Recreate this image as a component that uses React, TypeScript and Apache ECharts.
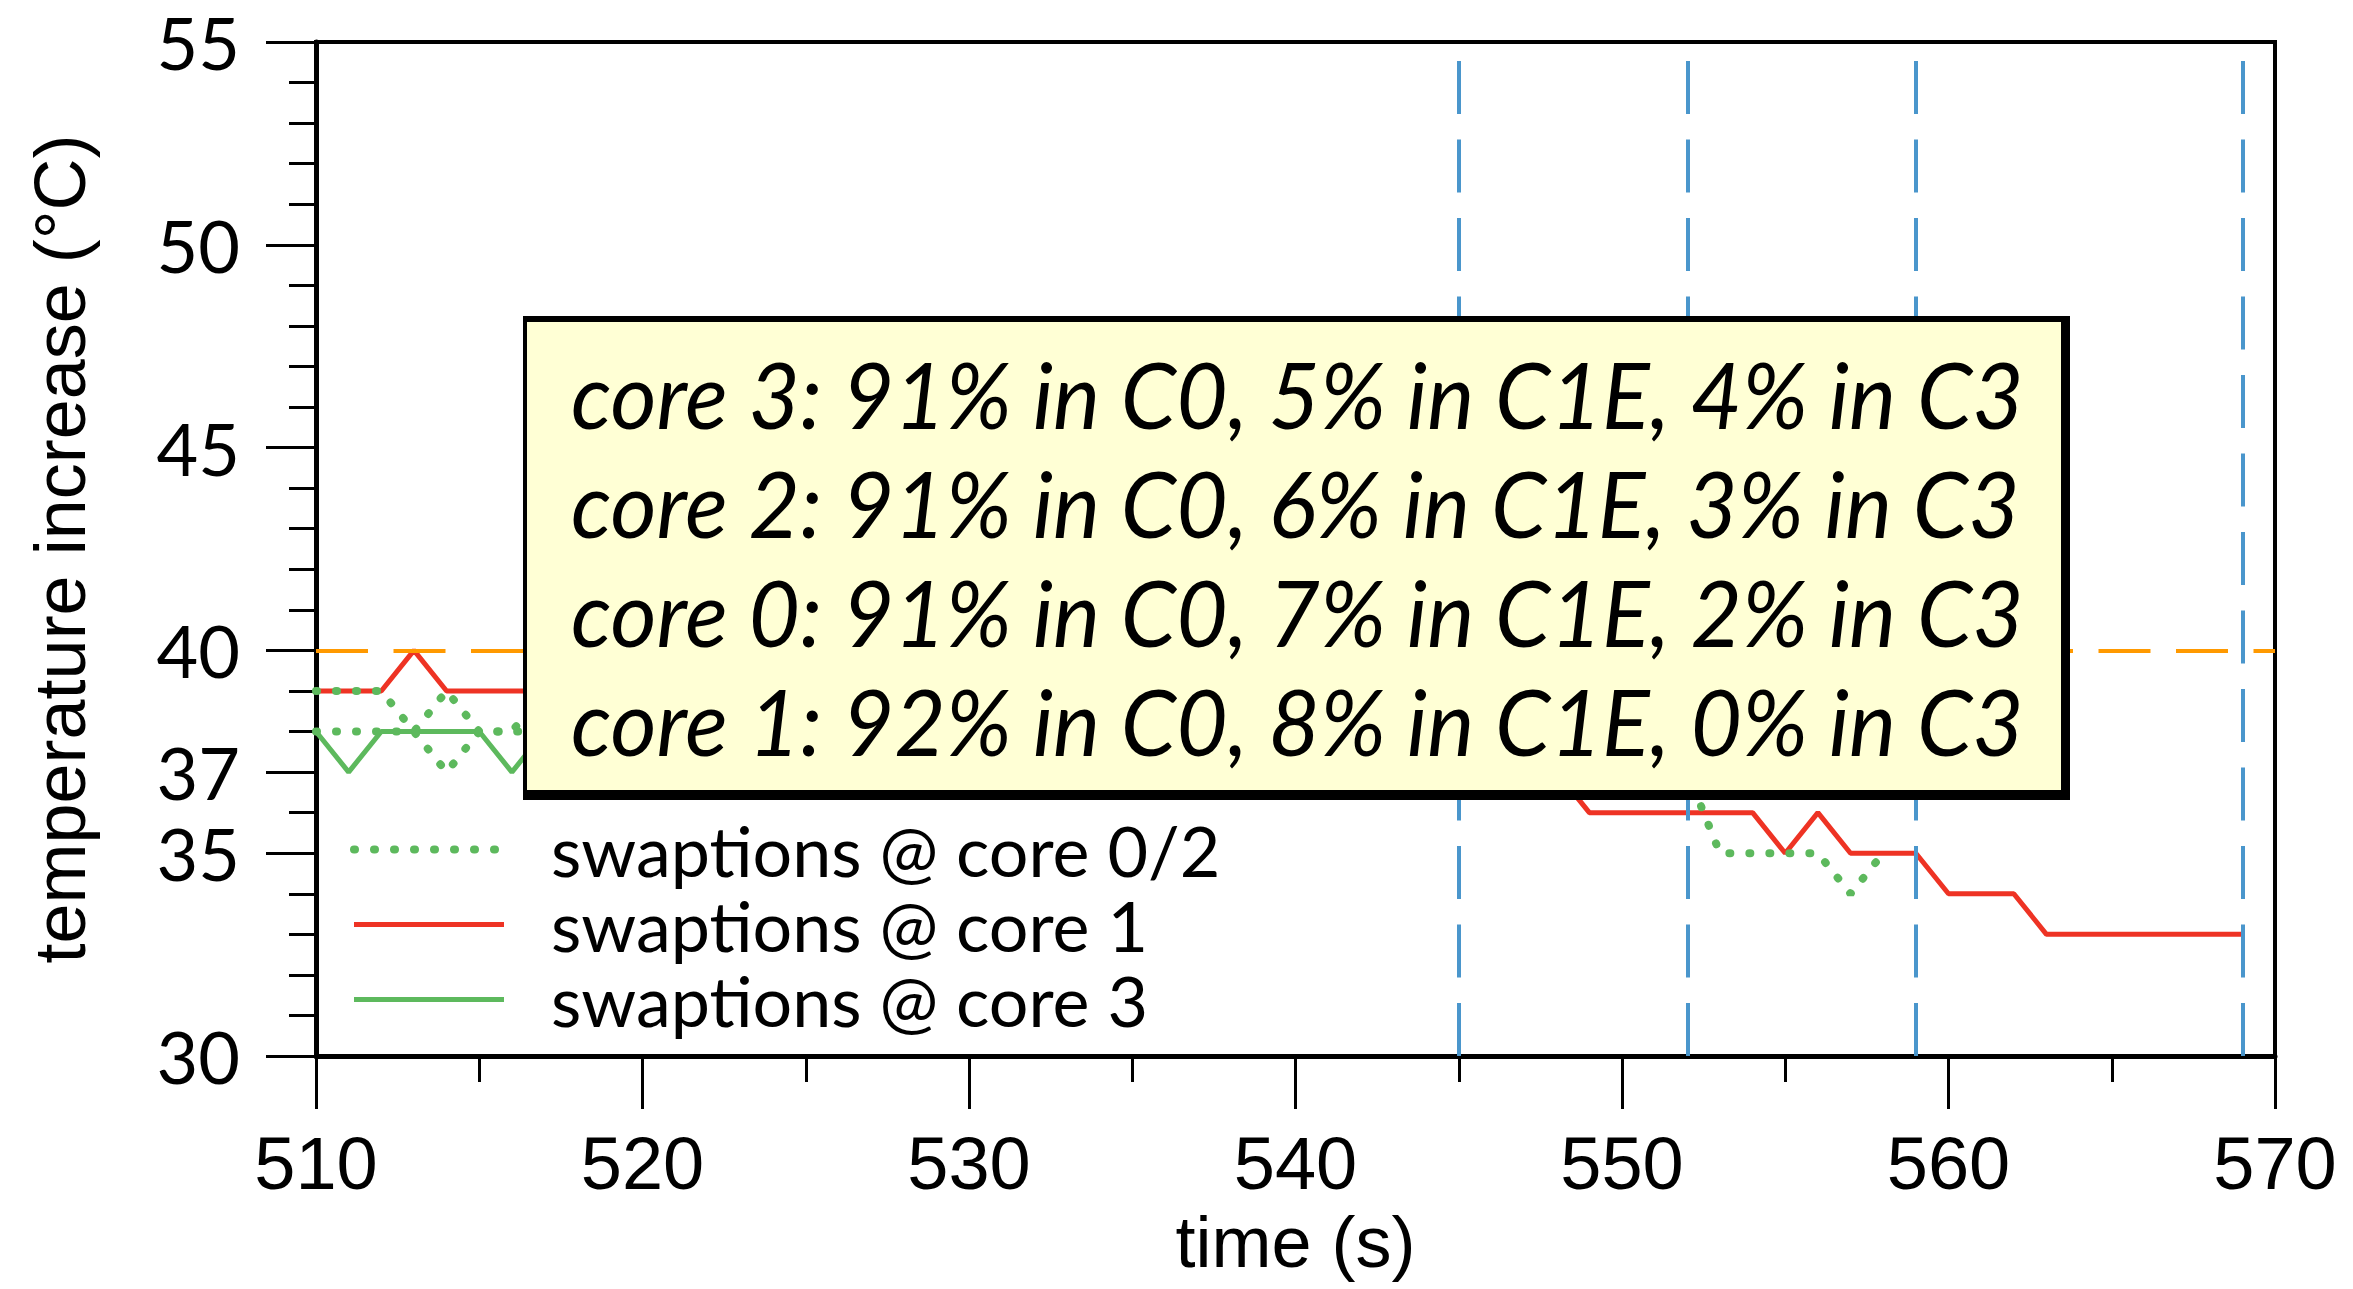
import React, { useEffect, useRef } from 'react';
import * as echarts from 'echarts';

const time = [
  510, 511, 512, 513, 514, 515, 516, 517, 518, 519,
  520, 521, 522, 523, 524, 525, 526, 527, 528, 529,
  530, 531, 532, 533, 534, 535, 536, 537, 538, 539,
  540, 541, 542, 543, 544, 545, 546, 547, 548, 549,
  550, 551, 552, 553, 554, 555, 556, 557, 558, 559,
  560, 561, 562, 563, 564, 565, 566, 567, 568, 569,
];

// swaptions @ core 1 (510..569)
const core1 = [
  39, 39, 39, 40, 39,
  39, 39, 39, 39, 39, 39, 40, 39, 39, 39,
  39, 39, 38, 39, 39, 38, 38, 38, 38, 38,
  38, 38, 38, 38, 38, 38, 38, 37, 38, 37,
  37, 37, 37, 37,
  36, 36, 36, 36, 36, 36, 35, 36, 35, 35, 35, 34, 34, 34, 33, 33, 33, 33, 33, 33, 33,
];

// swaptions @ core 0 (510..558)
const core0 = [
  39, 39, 39, 38, 39, 38, 38,
  39, 38, 38, 38, 39, 38, 38, 38, 38, 38,
  38, 37, 38, 38, 38, 37, 38, 38, 38, 38,
  37, 37, 38, 37, 37, 37, 37, 37, 37, 37,
  37, 37, 37, 37, 37,
  37, 35, 35, 35, 35, 34, 35,
];

// swaptions @ core 2 (510..551)
const core2 = [
  38, 38, 38, 38, 37, 38, 38,
  38, 38, 37, 38, 38, 38, 38, 38, 39, 38,
  38, 38, 38, 38, 37, 38, 38, 38, 37, 38,
  38, 38, 37, 37, 38, 37, 37, 37, 37, 37,
  37, 37, 37, 37, 37,
];

// swaptions @ core 3 (510..558)
const core3 = [
  38, 37, 38, 38, 38, 38, 37,
  38, 38, 38, 37, 38, 38, 38, 38, 38, 38,
  38, 38, 37, 38, 38, 38, 38, 38, 38, 38,
  38, 37, 38, 38, 37, 37, 38, 37, 37, 37,
  37, 37, 37, 37, 37, 37, 37, 37, 37, 37,
  37, 37,
];

const yLabelValues = [30, 35, 37, 40, 45, 50, 55];
const thresholdValue = 40;
const markerTimes = [545, 552, 559, 569];
const boxLines = [
  'core 3: 91% in C0, 5% in C1E, 4% in C3',
  'core 2: 91% in C0, 6% in C1E, 3% in C3',
  'core 0: 91% in C0, 7% in C1E, 2% in C3',
  'core 1: 92% in C0, 8% in C1E, 0% in C3',
];
const nameCore02 = 'swaptions @ core 0/2';
const nameCore1 = 'swaptions @ core 1';
const nameCore3 = 'swaptions @ core 3';

const RED = '#EE3324';
const GREEN = '#5DB95D';
const BLUE = '#4A96CC';
const ORANGE = '#FF9900';
const NARROW = "'Liberation Sans Narrow', 'Liberation Sans', sans-serif";

function pairs(values: number[]) {
  return values.map((v, i) => [time[i], v]);
}

export default function App() {
  const ref = useRef<HTMLDivElement>(null);
  useEffect(() => {
    if (!ref.current) return;
    const chart = echarts.init(ref.current, undefined, { renderer: 'svg' });

    const dotted = { type: [1, 19], cap: 'round', width: 8, color: GREEN };

    const markLineData: any[] = markerTimes.map((t) => [
      { coord: [t, 30], lineStyle: { color: BLUE, width: 4, type: [53, 25.5] } },
      { coord: [t, 55] },
    ]);
    markLineData.push([
      { coord: [510, thresholdValue], lineStyle: { color: ORANGE, width: 4, type: [52, 25.5] } },
      { coord: [570, thresholdValue] },
    ]);

    const boxTop = 316;
    const textYs = [393, 502, 611, 720];

    const option: any = {
      animation: false,
      backgroundColor: '#fff',
      grid: {
        left: 316, top: 42, width: 1959, height: 1014,
        show: true, borderColor: '#000', borderWidth: 4, backgroundColor: 'transparent',
      },
      xAxis: {
        type: 'value', min: 510, max: 570, interval: 10,
        name: 'time (s)', nameLocation: 'middle', nameGap: 150,
        nameTextStyle: { fontFamily: NARROW, fontSize: 72, color: '#000' },
        axisLine: { show: true, lineStyle: { color: '#000', width: 5 } },
        axisTick: { show: true, length: 53, lineStyle: { color: '#000', width: 3 } },
        minorTick: { show: true, splitNumber: 2, length: 26, lineStyle: { color: '#000', width: 3 } },
        axisLabel: { fontFamily: NARROW, fontSize: 74, color: '#000', margin: 70 },
        splitLine: { show: false },
      },
      yAxis: [
        {
          type: 'value', min: 30, max: 55, interval: 1, position: 'left',
          name: 'temperature increase (°C)', nameLocation: 'middle', nameGap: 220,
          nameTextStyle: { fontFamily: NARROW, fontSize: 72, color: '#000' },
          axisLine: { show: true, lineStyle: { color: '#000', width: 5 } },
          axisTick: { show: true, length: 27, lineStyle: { color: '#000', width: 3 } },
          axisLabel: { show: false },
          splitLine: { show: false },
        },
        {
          type: 'value', min: 30, max: 55, position: 'left',
          axisLine: { show: false },
          axisTick: { show: true, length: 50, customValues: yLabelValues, lineStyle: { color: '#000', width: 3 } },
          axisLabel: { show: true, customValues: yLabelValues, fontFamily: 'Lato', fontSize: 72, color: '#000', margin: 76 },
          splitLine: { show: false },
        },
      ],
      legend: {
        orient: 'vertical', left: 345, top: 807,
        itemWidth: 150, itemHeight: 20, itemGap: 0,
        itemStyle: { opacity: 0 },
        data: [
          { name: nameCore02, lineStyle: { color: GREEN, width: 8, type: [1, 19], cap: 'round' } },
          { name: nameCore1, lineStyle: { color: RED, width: 5, type: 'solid' } },
          { name: nameCore3, lineStyle: { color: GREEN, width: 5, type: 'solid' } },
        ],
        textStyle: { fontFamily: 'Lato', fontSize: 70, color: '#000', lineHeight: 75, padding: [0, 0, 0, 42] },
      },
      series: [
        {
          name: 'refs', type: 'line', data: [], symbol: 'none', silent: true,
          markLine: { silent: true, symbol: ['none', 'none'], label: { show: false }, data: markLineData },
        },
        { name: nameCore1, type: 'line', data: pairs(core1), symbol: 'none', symbolSize: 0, lineStyle: { color: RED, width: 5 }, itemStyle: { color: RED } },
        { name: nameCore3, type: 'line', data: pairs(core3), symbol: 'none', symbolSize: 0, lineStyle: { color: GREEN, width: 5 }, itemStyle: { color: GREEN } },
        { name: nameCore02, type: 'line', data: pairs(core0), symbol: 'none', symbolSize: 0, lineStyle: dotted, itemStyle: { color: GREEN } },
        { name: nameCore02, type: 'line', data: pairs(core2), symbol: 'none', symbolSize: 0, lineStyle: dotted, itemStyle: { color: GREEN } },
      ],
      graphic: [
        { type: 'rect', z: 100, zlevel: 0, shape: { x: 523, y: boxTop, width: 1547, height: 484 }, style: { fill: '#000' } },
        { type: 'rect', z: 101, zlevel: 0, shape: { x: 527, y: boxTop + 6, width: 1534, height: 468 }, style: { fill: '#FFFFD5' } },
        ...boxLines.map((t, i) => ({
          type: 'text', z: 102, zlevel: 0, x: 571, y: textYs[i], scaleX: 0.965,
          style: {
            text: t, x: 0, y: 0, fill: '#000',
            font: 'italic 92px Lato',
            textAlign: 'left', textVerticalAlign: 'middle',
            align: 'left', verticalAlign: 'middle',
          },
        })),
      ],
    };
    chart.setOption(option);
    return () => chart.dispose();
  }, []);
  return <div ref={ref} style={{ position: 'fixed', left: 0, top: 0, width: 2353, height: 1289 }} />;
}
